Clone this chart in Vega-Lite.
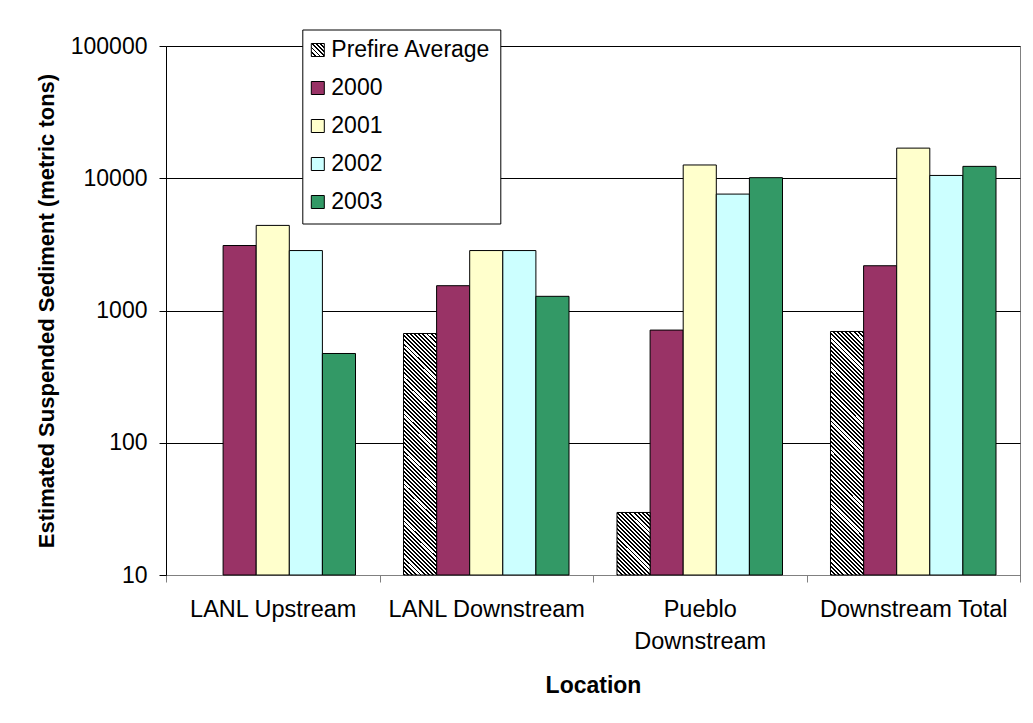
{
  "$schema": "https://vega.github.io/schema/vega-lite/v6.json",
  "width": 854,
  "height": 529,
  "autosize": "none",
  "padding": {"left": 166, "top": 46, "right": 13, "bottom": 148},
  "background": "#ffffff",
  "data": {
    "values": [
      {"location": "LANL Upstream", "series": "2000", "value": 3100},
      {"location": "LANL Upstream", "series": "2001", "value": 4400},
      {"location": "LANL Upstream", "series": "2002", "value": 2840},
      {"location": "LANL Upstream", "series": "2003", "value": 473},
      {"location": "LANL Downstream", "series": "Prefire Average", "value": 670},
      {"location": "LANL Downstream", "series": "2000", "value": 1540},
      {"location": "LANL Downstream", "series": "2001", "value": 2840},
      {"location": "LANL Downstream", "series": "2002", "value": 2840},
      {"location": "LANL Downstream", "series": "2003", "value": 1280},
      {"location": "Pueblo Downstream", "series": "Prefire Average", "value": 29.7},
      {"location": "Pueblo Downstream", "series": "2000", "value": 711},
      {"location": "Pueblo Downstream", "series": "2001", "value": 12600},
      {"location": "Pueblo Downstream", "series": "2002", "value": 7590},
      {"location": "Pueblo Downstream", "series": "2003", "value": 10100},
      {"location": "Downstream Total", "series": "Prefire Average", "value": 694},
      {"location": "Downstream Total", "series": "2000", "value": 2180},
      {"location": "Downstream Total", "series": "2001", "value": 16900},
      {"location": "Downstream Total", "series": "2002", "value": 10500},
      {"location": "Downstream Total", "series": "2003", "value": 12300}
    ]
  },
  "encoding": {
    "x": {
      "field": "location",
      "type": "nominal",
      "sort": ["LANL Upstream", "LANL Downstream", "Pueblo Downstream", "Downstream Total"],
      "scale": {"paddingInner": 0, "paddingOuter": 0},
      "axis": {
        "title": "Location",
        "labelAngle": 0,
        "labelFontSize": 23.5,
        "labelColor": "#000000",
        "labelPadding": 15,
        "labelLineHeight": 32,
        "labelLimit": 0,
        "labelExpr": "datum.label === 'Pueblo Downstream' ? ['Pueblo', 'Downstream'] : datum.label",
        "tickBand": "extent",
        "tickSize": 7,
        "tickColor": "#808080",
        "domainColor": "#808080",
        "titleFontSize": 23,
        "titleFontWeight": "bold",
        "titleColor": "#000000",
        "titleBaseline": "alphabetic",
        "titleY": 117,
        "grid": false
      }
    },
    "xOffset": {
      "field": "series",
      "type": "nominal",
      "scale": {"domain": ["Prefire Average", "2000", "2001", "2002", "2003"], "paddingInner": 0, "paddingOuter": 0.725}
    },
    "y": {
      "field": "value",
      "type": "quantitative",
      "scale": {"type": "log", "domain": [10, 100000], "nice": false},
      "axis": {
        "title": "Estimated Suspended Sediment (metric tons)",
        "values": [10, 100, 1000, 10000, 100000],
        "format": "d",
        "labelFontSize": 23,
        "labelColor": "#000000",
        "labelPadding": 12,
        "tickSize": 7,
        "tickColor": "#000000",
        "domainColor": "#000000",
        "grid": true,
        "gridColor": "#000000",
        "gridWidth": 1,
        "titleFontSize": 22,
        "titleFontWeight": "bold",
        "titleColor": "#000000",
        "titleBaseline": "alphabetic",
        "titleAlign": "center",
        "titleAngle": -90,
        "titleX": -112.5,
        "titleY": 264.5
      }
    },
    "y2": {"datum": 10}
  },
  "layer": [
    {
      "transform": [{"filter": "datum.series !== 'Prefire Average'"}],
      "mark": {"type": "bar", "stroke": "#000000", "strokeWidth": 1},
      "encoding": {
        "fill": {
          "field": "series",
          "type": "nominal",
          "scale": {
            "domain": ["2000", "2001", "2002", "2003"],
            "range": ["#993366", "#ffffcc", "#ccffff", "#339966"]
          },
          "legend": null
        },
        "opacity": {
          "field": "series",
          "type": "nominal",
          "scale": {
            "domain": ["Prefire Average", "2000", "2001", "2002", "2003"],
            "range": [1, 1, 1, 1, 1]
          },
          "legend": {
            "title": null,
            "orient": "none",
            "legendX": 136.3,
            "legendY": -16.5,
            "labelFontSize": 23,
            "labelColor": "#000000",
            "labelLimit": 0,
            "labelOffset": 2,
            "symbolOffset": -5,
            "symbolType": "square",
            "symbolSize": 169,
            "symbolStrokeColor": "#000000",
            "symbolStrokeWidth": 1,
            "symbolFillColor": {"expr": "datum.value === 'Prefire Average' ? {gradient: 'linear', x1: 0, y1: 1, x2: 1, y2: 0, stops: [{offset: 0, color: '#000'}, {offset: 0.074, color: '#000'}, {offset: 0.074, color: '#fff'}, {offset: 0.159, color: '#fff'}, {offset: 0.159, color: '#000'}, {offset: 0.233, color: '#000'}, {offset: 0.233, color: '#fff'}, {offset: 0.318, color: '#fff'}, {offset: 0.318, color: '#000'}, {offset: 0.392, color: '#000'}, {offset: 0.392, color: '#fff'}, {offset: 0.477, color: '#fff'}, {offset: 0.477, color: '#000'}, {offset: 0.551, color: '#000'}, {offset: 0.551, color: '#fff'}, {offset: 0.636, color: '#fff'}, {offset: 0.636, color: '#000'}, {offset: 0.71, color: '#000'}, {offset: 0.71, color: '#fff'}, {offset: 0.795, color: '#fff'}, {offset: 0.795, color: '#000'}, {offset: 0.869, color: '#000'}, {offset: 0.869, color: '#fff'}, {offset: 0.954, color: '#fff'}, {offset: 0.954, color: '#000'}, {offset: 1, color: '#000'}]} : datum.value === '2000' ? '#993366' : datum.value === '2001' ? '#ffffcc' : datum.value === '2002' ? '#ccffff' : '#339966'"},
            "strokeColor": "#000000",
            "fillColor": "#ffffff",
            "padding": 9,
            "rowPadding": 14
          }
        }
      }
    },
    {
      "transform": [{"filter": "datum.series === 'Prefire Average'"}],
      "mark": {"type": "bar", "stroke": "#000000", "strokeWidth": 1},
      "encoding": {
        "fill": {
          "condition": {
            "test": "datum.location === 'Pueblo Downstream'",
            "value": {"gradient": "linear", "x1": 0, "y1": 1, "x2": 0.6317, "y2": -0.1947, "stops": [
              {"offset": 0, "color": "#000"}, {"offset": 0.02, "color": "#000"}, {"offset": 0.02, "color": "#fff"}, {"offset": 0.043, "color": "#fff"},
              {"offset": 0.043, "color": "#000"}, {"offset": 0.063, "color": "#000"}, {"offset": 0.063, "color": "#fff"}, {"offset": 0.086, "color": "#fff"},
              {"offset": 0.086, "color": "#000"}, {"offset": 0.106, "color": "#000"}, {"offset": 0.106, "color": "#fff"}, {"offset": 0.129, "color": "#fff"},
              {"offset": 0.129, "color": "#000"}, {"offset": 0.149, "color": "#000"}, {"offset": 0.149, "color": "#fff"}, {"offset": 0.172, "color": "#fff"},
              {"offset": 0.172, "color": "#000"}, {"offset": 0.192, "color": "#000"}, {"offset": 0.192, "color": "#fff"}, {"offset": 0.215, "color": "#fff"},
              {"offset": 0.215, "color": "#000"}, {"offset": 0.235, "color": "#000"}, {"offset": 0.235, "color": "#fff"}, {"offset": 0.258, "color": "#fff"},
              {"offset": 0.258, "color": "#000"}, {"offset": 0.278, "color": "#000"}, {"offset": 0.278, "color": "#fff"}, {"offset": 0.301, "color": "#fff"},
              {"offset": 0.301, "color": "#000"}, {"offset": 0.321, "color": "#000"}, {"offset": 0.321, "color": "#fff"}, {"offset": 0.344, "color": "#fff"},
              {"offset": 0.344, "color": "#000"}, {"offset": 0.364, "color": "#000"}, {"offset": 0.364, "color": "#fff"}, {"offset": 0.387, "color": "#fff"},
              {"offset": 0.387, "color": "#000"}, {"offset": 0.407, "color": "#000"}, {"offset": 0.407, "color": "#fff"}, {"offset": 0.43, "color": "#fff"},
              {"offset": 0.43, "color": "#000"}, {"offset": 0.45, "color": "#000"}, {"offset": 0.45, "color": "#fff"}, {"offset": 0.473, "color": "#fff"},
              {"offset": 0.473, "color": "#000"}, {"offset": 0.493, "color": "#000"}, {"offset": 0.493, "color": "#fff"}, {"offset": 0.516, "color": "#fff"},
              {"offset": 0.516, "color": "#000"}, {"offset": 0.536, "color": "#000"}, {"offset": 0.536, "color": "#fff"}, {"offset": 0.559, "color": "#fff"},
              {"offset": 0.559, "color": "#000"}, {"offset": 0.579, "color": "#000"}, {"offset": 0.579, "color": "#fff"}, {"offset": 0.602, "color": "#fff"},
              {"offset": 0.602, "color": "#000"}, {"offset": 0.622, "color": "#000"}, {"offset": 0.622, "color": "#fff"}, {"offset": 0.645, "color": "#fff"},
              {"offset": 0.645, "color": "#000"}, {"offset": 0.665, "color": "#000"}, {"offset": 0.665, "color": "#fff"}, {"offset": 0.688, "color": "#fff"},
              {"offset": 0.688, "color": "#000"}, {"offset": 0.708, "color": "#000"}, {"offset": 0.708, "color": "#fff"}, {"offset": 0.731, "color": "#fff"},
              {"offset": 0.731, "color": "#000"}, {"offset": 0.751, "color": "#000"}, {"offset": 0.751, "color": "#fff"}, {"offset": 0.774, "color": "#fff"},
              {"offset": 0.774, "color": "#000"}, {"offset": 0.794, "color": "#000"}, {"offset": 0.794, "color": "#fff"}, {"offset": 0.817, "color": "#fff"},
              {"offset": 0.817, "color": "#000"}, {"offset": 0.837, "color": "#000"}, {"offset": 0.837, "color": "#fff"}, {"offset": 0.86, "color": "#fff"},
              {"offset": 0.86, "color": "#000"}, {"offset": 0.88, "color": "#000"}, {"offset": 0.88, "color": "#fff"}, {"offset": 0.903, "color": "#fff"},
              {"offset": 0.903, "color": "#000"}, {"offset": 0.923, "color": "#000"}, {"offset": 0.923, "color": "#fff"}, {"offset": 0.946, "color": "#fff"},
              {"offset": 0.946, "color": "#000"}, {"offset": 0.966, "color": "#000"}, {"offset": 0.966, "color": "#fff"}, {"offset": 0.989, "color": "#fff"},
              {"offset": 0.989, "color": "#000"}, {"offset": 1, "color": "#000"}
            ]}
          },
          "value": {"gradient": "linear", "x1": 0, "y1": 1, "x2": 0.1519, "y2": -0.1155, "stops": [
            {"offset": 0, "color": "#000"}, {"offset": 0.007, "color": "#000"}, {"offset": 0.007, "color": "#fff"}, {"offset": 0.015, "color": "#fff"},
            {"offset": 0.015, "color": "#000"}, {"offset": 0.022, "color": "#000"}, {"offset": 0.022, "color": "#fff"}, {"offset": 0.03, "color": "#fff"},
            {"offset": 0.03, "color": "#000"}, {"offset": 0.037, "color": "#000"}, {"offset": 0.037, "color": "#fff"}, {"offset": 0.045, "color": "#fff"},
            {"offset": 0.045, "color": "#000"}, {"offset": 0.052, "color": "#000"}, {"offset": 0.052, "color": "#fff"}, {"offset": 0.06, "color": "#fff"},
            {"offset": 0.06, "color": "#000"}, {"offset": 0.067, "color": "#000"}, {"offset": 0.067, "color": "#fff"}, {"offset": 0.075, "color": "#fff"},
            {"offset": 0.075, "color": "#000"}, {"offset": 0.082, "color": "#000"}, {"offset": 0.082, "color": "#fff"}, {"offset": 0.09, "color": "#fff"},
            {"offset": 0.09, "color": "#000"}, {"offset": 0.097, "color": "#000"}, {"offset": 0.097, "color": "#fff"}, {"offset": 0.105, "color": "#fff"},
            {"offset": 0.105, "color": "#000"}, {"offset": 0.112, "color": "#000"}, {"offset": 0.112, "color": "#fff"}, {"offset": 0.12, "color": "#fff"},
            {"offset": 0.12, "color": "#000"}, {"offset": 0.127, "color": "#000"}, {"offset": 0.127, "color": "#fff"}, {"offset": 0.135, "color": "#fff"},
            {"offset": 0.135, "color": "#000"}, {"offset": 0.142, "color": "#000"}, {"offset": 0.142, "color": "#fff"}, {"offset": 0.15, "color": "#fff"},
            {"offset": 0.15, "color": "#000"}, {"offset": 0.157, "color": "#000"}, {"offset": 0.157, "color": "#fff"}, {"offset": 0.165, "color": "#fff"},
            {"offset": 0.165, "color": "#000"}, {"offset": 0.172, "color": "#000"}, {"offset": 0.172, "color": "#fff"}, {"offset": 0.18, "color": "#fff"},
            {"offset": 0.18, "color": "#000"}, {"offset": 0.187, "color": "#000"}, {"offset": 0.187, "color": "#fff"}, {"offset": 0.195, "color": "#fff"},
            {"offset": 0.195, "color": "#000"}, {"offset": 0.202, "color": "#000"}, {"offset": 0.202, "color": "#fff"}, {"offset": 0.21, "color": "#fff"},
            {"offset": 0.21, "color": "#000"}, {"offset": 0.217, "color": "#000"}, {"offset": 0.217, "color": "#fff"}, {"offset": 0.225, "color": "#fff"},
            {"offset": 0.225, "color": "#000"}, {"offset": 0.232, "color": "#000"}, {"offset": 0.232, "color": "#fff"}, {"offset": 0.24, "color": "#fff"},
            {"offset": 0.24, "color": "#000"}, {"offset": 0.247, "color": "#000"}, {"offset": 0.247, "color": "#fff"}, {"offset": 0.255, "color": "#fff"},
            {"offset": 0.255, "color": "#000"}, {"offset": 0.262, "color": "#000"}, {"offset": 0.262, "color": "#fff"}, {"offset": 0.27, "color": "#fff"},
            {"offset": 0.27, "color": "#000"}, {"offset": 0.277, "color": "#000"}, {"offset": 0.277, "color": "#fff"}, {"offset": 0.285, "color": "#fff"},
            {"offset": 0.285, "color": "#000"}, {"offset": 0.292, "color": "#000"}, {"offset": 0.292, "color": "#fff"}, {"offset": 0.3, "color": "#fff"},
            {"offset": 0.3, "color": "#000"}, {"offset": 0.307, "color": "#000"}, {"offset": 0.307, "color": "#fff"}, {"offset": 0.315, "color": "#fff"},
            {"offset": 0.315, "color": "#000"}, {"offset": 0.322, "color": "#000"}, {"offset": 0.322, "color": "#fff"}, {"offset": 0.33, "color": "#fff"},
            {"offset": 0.33, "color": "#000"}, {"offset": 0.337, "color": "#000"}, {"offset": 0.337, "color": "#fff"}, {"offset": 0.345, "color": "#fff"},
            {"offset": 0.345, "color": "#000"}, {"offset": 0.352, "color": "#000"}, {"offset": 0.352, "color": "#fff"}, {"offset": 0.36, "color": "#fff"},
            {"offset": 0.36, "color": "#000"}, {"offset": 0.367, "color": "#000"}, {"offset": 0.367, "color": "#fff"}, {"offset": 0.375, "color": "#fff"},
            {"offset": 0.375, "color": "#000"}, {"offset": 0.382, "color": "#000"}, {"offset": 0.382, "color": "#fff"}, {"offset": 0.39, "color": "#fff"},
            {"offset": 0.39, "color": "#000"}, {"offset": 0.397, "color": "#000"}, {"offset": 0.397, "color": "#fff"}, {"offset": 0.405, "color": "#fff"},
            {"offset": 0.405, "color": "#000"}, {"offset": 0.412, "color": "#000"}, {"offset": 0.412, "color": "#fff"}, {"offset": 0.42, "color": "#fff"},
            {"offset": 0.42, "color": "#000"}, {"offset": 0.427, "color": "#000"}, {"offset": 0.427, "color": "#fff"}, {"offset": 0.435, "color": "#fff"},
            {"offset": 0.435, "color": "#000"}, {"offset": 0.442, "color": "#000"}, {"offset": 0.442, "color": "#fff"}, {"offset": 0.45, "color": "#fff"},
            {"offset": 0.45, "color": "#000"}, {"offset": 0.457, "color": "#000"}, {"offset": 0.457, "color": "#fff"}, {"offset": 0.465, "color": "#fff"},
            {"offset": 0.465, "color": "#000"}, {"offset": 0.472, "color": "#000"}, {"offset": 0.472, "color": "#fff"}, {"offset": 0.48, "color": "#fff"},
            {"offset": 0.48, "color": "#000"}, {"offset": 0.487, "color": "#000"}, {"offset": 0.487, "color": "#fff"}, {"offset": 0.495, "color": "#fff"},
            {"offset": 0.495, "color": "#000"}, {"offset": 0.502, "color": "#000"}, {"offset": 0.502, "color": "#fff"}, {"offset": 0.51, "color": "#fff"},
            {"offset": 0.51, "color": "#000"}, {"offset": 0.517, "color": "#000"}, {"offset": 0.517, "color": "#fff"}, {"offset": 0.525, "color": "#fff"},
            {"offset": 0.525, "color": "#000"}, {"offset": 0.532, "color": "#000"}, {"offset": 0.532, "color": "#fff"}, {"offset": 0.54, "color": "#fff"},
            {"offset": 0.54, "color": "#000"}, {"offset": 0.547, "color": "#000"}, {"offset": 0.547, "color": "#fff"}, {"offset": 0.555, "color": "#fff"},
            {"offset": 0.555, "color": "#000"}, {"offset": 0.562, "color": "#000"}, {"offset": 0.562, "color": "#fff"}, {"offset": 0.57, "color": "#fff"},
            {"offset": 0.57, "color": "#000"}, {"offset": 0.577, "color": "#000"}, {"offset": 0.577, "color": "#fff"}, {"offset": 0.585, "color": "#fff"},
            {"offset": 0.585, "color": "#000"}, {"offset": 0.592, "color": "#000"}, {"offset": 0.592, "color": "#fff"}, {"offset": 0.6, "color": "#fff"},
            {"offset": 0.6, "color": "#000"}, {"offset": 0.607, "color": "#000"}, {"offset": 0.607, "color": "#fff"}, {"offset": 0.615, "color": "#fff"},
            {"offset": 0.615, "color": "#000"}, {"offset": 0.622, "color": "#000"}, {"offset": 0.622, "color": "#fff"}, {"offset": 0.63, "color": "#fff"},
            {"offset": 0.63, "color": "#000"}, {"offset": 0.637, "color": "#000"}, {"offset": 0.637, "color": "#fff"}, {"offset": 0.645, "color": "#fff"},
            {"offset": 0.645, "color": "#000"}, {"offset": 0.652, "color": "#000"}, {"offset": 0.652, "color": "#fff"}, {"offset": 0.66, "color": "#fff"},
            {"offset": 0.66, "color": "#000"}, {"offset": 0.667, "color": "#000"}, {"offset": 0.667, "color": "#fff"}, {"offset": 0.675, "color": "#fff"},
            {"offset": 0.675, "color": "#000"}, {"offset": 0.682, "color": "#000"}, {"offset": 0.682, "color": "#fff"}, {"offset": 0.69, "color": "#fff"},
            {"offset": 0.69, "color": "#000"}, {"offset": 0.697, "color": "#000"}, {"offset": 0.697, "color": "#fff"}, {"offset": 0.705, "color": "#fff"},
            {"offset": 0.705, "color": "#000"}, {"offset": 0.712, "color": "#000"}, {"offset": 0.712, "color": "#fff"}, {"offset": 0.72, "color": "#fff"},
            {"offset": 0.72, "color": "#000"}, {"offset": 0.727, "color": "#000"}, {"offset": 0.727, "color": "#fff"}, {"offset": 0.735, "color": "#fff"},
            {"offset": 0.735, "color": "#000"}, {"offset": 0.742, "color": "#000"}, {"offset": 0.742, "color": "#fff"}, {"offset": 0.75, "color": "#fff"},
            {"offset": 0.75, "color": "#000"}, {"offset": 0.757, "color": "#000"}, {"offset": 0.757, "color": "#fff"}, {"offset": 0.765, "color": "#fff"},
            {"offset": 0.765, "color": "#000"}, {"offset": 0.772, "color": "#000"}, {"offset": 0.772, "color": "#fff"}, {"offset": 0.78, "color": "#fff"},
            {"offset": 0.78, "color": "#000"}, {"offset": 0.787, "color": "#000"}, {"offset": 0.787, "color": "#fff"}, {"offset": 0.795, "color": "#fff"},
            {"offset": 0.795, "color": "#000"}, {"offset": 0.802, "color": "#000"}, {"offset": 0.802, "color": "#fff"}, {"offset": 0.81, "color": "#fff"},
            {"offset": 0.81, "color": "#000"}, {"offset": 0.817, "color": "#000"}, {"offset": 0.817, "color": "#fff"}, {"offset": 0.825, "color": "#fff"},
            {"offset": 0.825, "color": "#000"}, {"offset": 0.832, "color": "#000"}, {"offset": 0.832, "color": "#fff"}, {"offset": 0.84, "color": "#fff"},
            {"offset": 0.84, "color": "#000"}, {"offset": 0.847, "color": "#000"}, {"offset": 0.847, "color": "#fff"}, {"offset": 0.855, "color": "#fff"},
            {"offset": 0.855, "color": "#000"}, {"offset": 0.862, "color": "#000"}, {"offset": 0.862, "color": "#fff"}, {"offset": 0.87, "color": "#fff"},
            {"offset": 0.87, "color": "#000"}, {"offset": 0.877, "color": "#000"}, {"offset": 0.877, "color": "#fff"}, {"offset": 0.885, "color": "#fff"},
            {"offset": 0.885, "color": "#000"}, {"offset": 0.892, "color": "#000"}, {"offset": 0.892, "color": "#fff"}, {"offset": 0.9, "color": "#fff"},
            {"offset": 0.9, "color": "#000"}, {"offset": 0.907, "color": "#000"}, {"offset": 0.907, "color": "#fff"}, {"offset": 0.915, "color": "#fff"},
            {"offset": 0.915, "color": "#000"}, {"offset": 0.922, "color": "#000"}, {"offset": 0.922, "color": "#fff"}, {"offset": 0.93, "color": "#fff"},
            {"offset": 0.93, "color": "#000"}, {"offset": 0.937, "color": "#000"}, {"offset": 0.937, "color": "#fff"}, {"offset": 0.945, "color": "#fff"},
            {"offset": 0.945, "color": "#000"}, {"offset": 0.952, "color": "#000"}, {"offset": 0.952, "color": "#fff"}, {"offset": 0.96, "color": "#fff"},
            {"offset": 0.96, "color": "#000"}, {"offset": 0.967, "color": "#000"}, {"offset": 0.967, "color": "#fff"}, {"offset": 0.975, "color": "#fff"},
            {"offset": 0.975, "color": "#000"}, {"offset": 0.982, "color": "#000"}, {"offset": 0.982, "color": "#fff"}, {"offset": 0.99, "color": "#fff"},
            {"offset": 0.99, "color": "#000"}, {"offset": 0.997, "color": "#000"}, {"offset": 0.997, "color": "#fff"}, {"offset": 1, "color": "#fff"}
          ]}
        }
      }
    }
  ],
  "config": {
    "font": "Liberation Sans",
    "view": {"stroke": "#808080", "strokeWidth": 1}
  }
}
